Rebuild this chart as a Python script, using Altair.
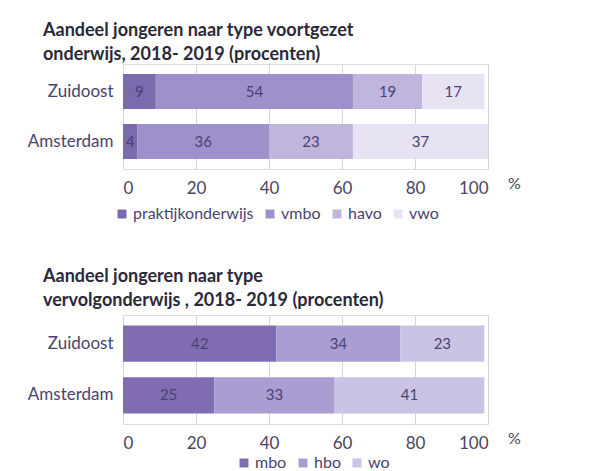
import altair as alt
import pandas as pd

regions = ["Zuidoost", "Amsterdam"]

vo_types = ["praktijkonderwijs", "vmbo", "havo", "vwo"]
vo_zuidoost = [9, 54, 19, 17]
vo_amsterdam = [4, 36, 23, 37]
vo_colors = ["#7c6aae", "#9e90ca", "#bfb5dd", "#e7e3f2"]

vv_types = ["mbo", "hbo", "wo"]
vv_zuidoost = [42, 34, 23]
vv_amsterdam = [25, 33, 41]
vv_colors = ["#7f6cb2", "#a99dd1", "#cbc3e4"]

x_ticks = [0, 20, 40, 60, 80, 100]

title_top = ["Aandeel jongeren naar type voortgezet", "onderwijs, 2018- 2019 (procenten)"]
title_bottom = ["Aandeel jongeren naar type", "vervolgonderwijs , 2018- 2019 (procenten)"]

FONT = "Lato"
TEXT_COL = "#4a4270"


def make_df(types, zo, am):
    rows = []
    for i, t in enumerate(types):
        rows.append({"regio": regions[0], "type": t, "waarde": zo[i], "ord": i})
        rows.append({"regio": regions[1], "type": t, "waarde": am[i], "ord": i})
    return pd.DataFrame(rows)


def make_chart(types, zo, am, colors, title, height, legend_x, legend_y, title_offset):
    df = make_df(types, zo, am)
    base = alt.Chart(df).transform_stack(
        stack="waarde", groupby=["regio"], as_=["x0", "x1"],
        sort=[alt.SortField("ord", order="ascending")]
    ).transform_calculate(mid="(datum.x0 + datum.x1) / 2")

    y = alt.Y("regio:N", sort=regions, title=None,
              scale=alt.Scale(paddingInner=0.3, paddingOuter=0.2),
              axis=alt.Axis(labelFont=FONT, labelFontSize=17, labelColor=TEXT_COL,
                            labelPadding=10, ticks=False, domain=False,
                            minExtent=109, maxExtent=109))

    bars = base.mark_bar().encode(
        x=alt.X("x0:Q", scale=alt.Scale(domain=[0, 100], nice=False),
                axis=alt.Axis(values=x_ticks, grid=True, gridColor="#d6d6d6",
                              ticks=False, domain=False, labelFont=FONT,
                              labelFontSize=17, labelColor="#4a4560",
                              labelPadding=11, title="%", titleAngle=0,
                              titleFont=FONT, titleFontSize=16, titleFontWeight="normal",
                              titleColor="#4a4560", titleX=391, titleY=14,
                              titleAlign="center", titleBaseline="middle")),
        x2="x1:Q",
        y=y,
        color=alt.Color("type:N", sort=types,
                        scale=alt.Scale(domain=types, range=colors),
                        legend=alt.Legend(title=None, orient="none", direction="horizontal",
                                          legendX=legend_x, legendY=legend_y,
                                          symbolType="square", symbolSize=80,
                                          symbolStrokeWidth=0, labelFont=FONT,
                                          labelFontSize=16, labelColor="#4a4270",
                                          columnPadding=8, labelOffset=3)),
        order=alt.Order("ord:Q")
    )
    labels = base.mark_text(font=FONT, fontSize=15, color=TEXT_COL).encode(
        x="mid:Q",
        y=alt.Y("regio:N", sort=regions),
        text=alt.Text("waarde:Q")
    )
    return alt.layer(bars, labels).properties(
        width=365, height=height,
        title=alt.TitleParams(title, anchor="start", frame="group", dx=-80,
                              font=FONT, fontSize=18, fontWeight="bold",
                              color="#2b2838", lineHeight=24, offset=title_offset)
    )


top = make_chart(vo_types, vo_zuidoost, vo_amsterdam, vo_colors, title_top, 105, -9, 142, 0)
bottom = make_chart(vv_types, vv_zuidoost, vv_amsterdam, vv_colors, title_bottom, 109, 113, 140, 5)

chart = alt.vconcat(top, bottom, spacing=44).resolve_scale(color="independent").resolve_legend(
    color="independent"
).properties(
    padding={"top": 13, "left": 5, "right": 5, "bottom": 5}
).configure_view(stroke="#d6d6d6").configure(background="white")

chart.save("out.html", embed_options={"renderer": "svg", "actions": False})
